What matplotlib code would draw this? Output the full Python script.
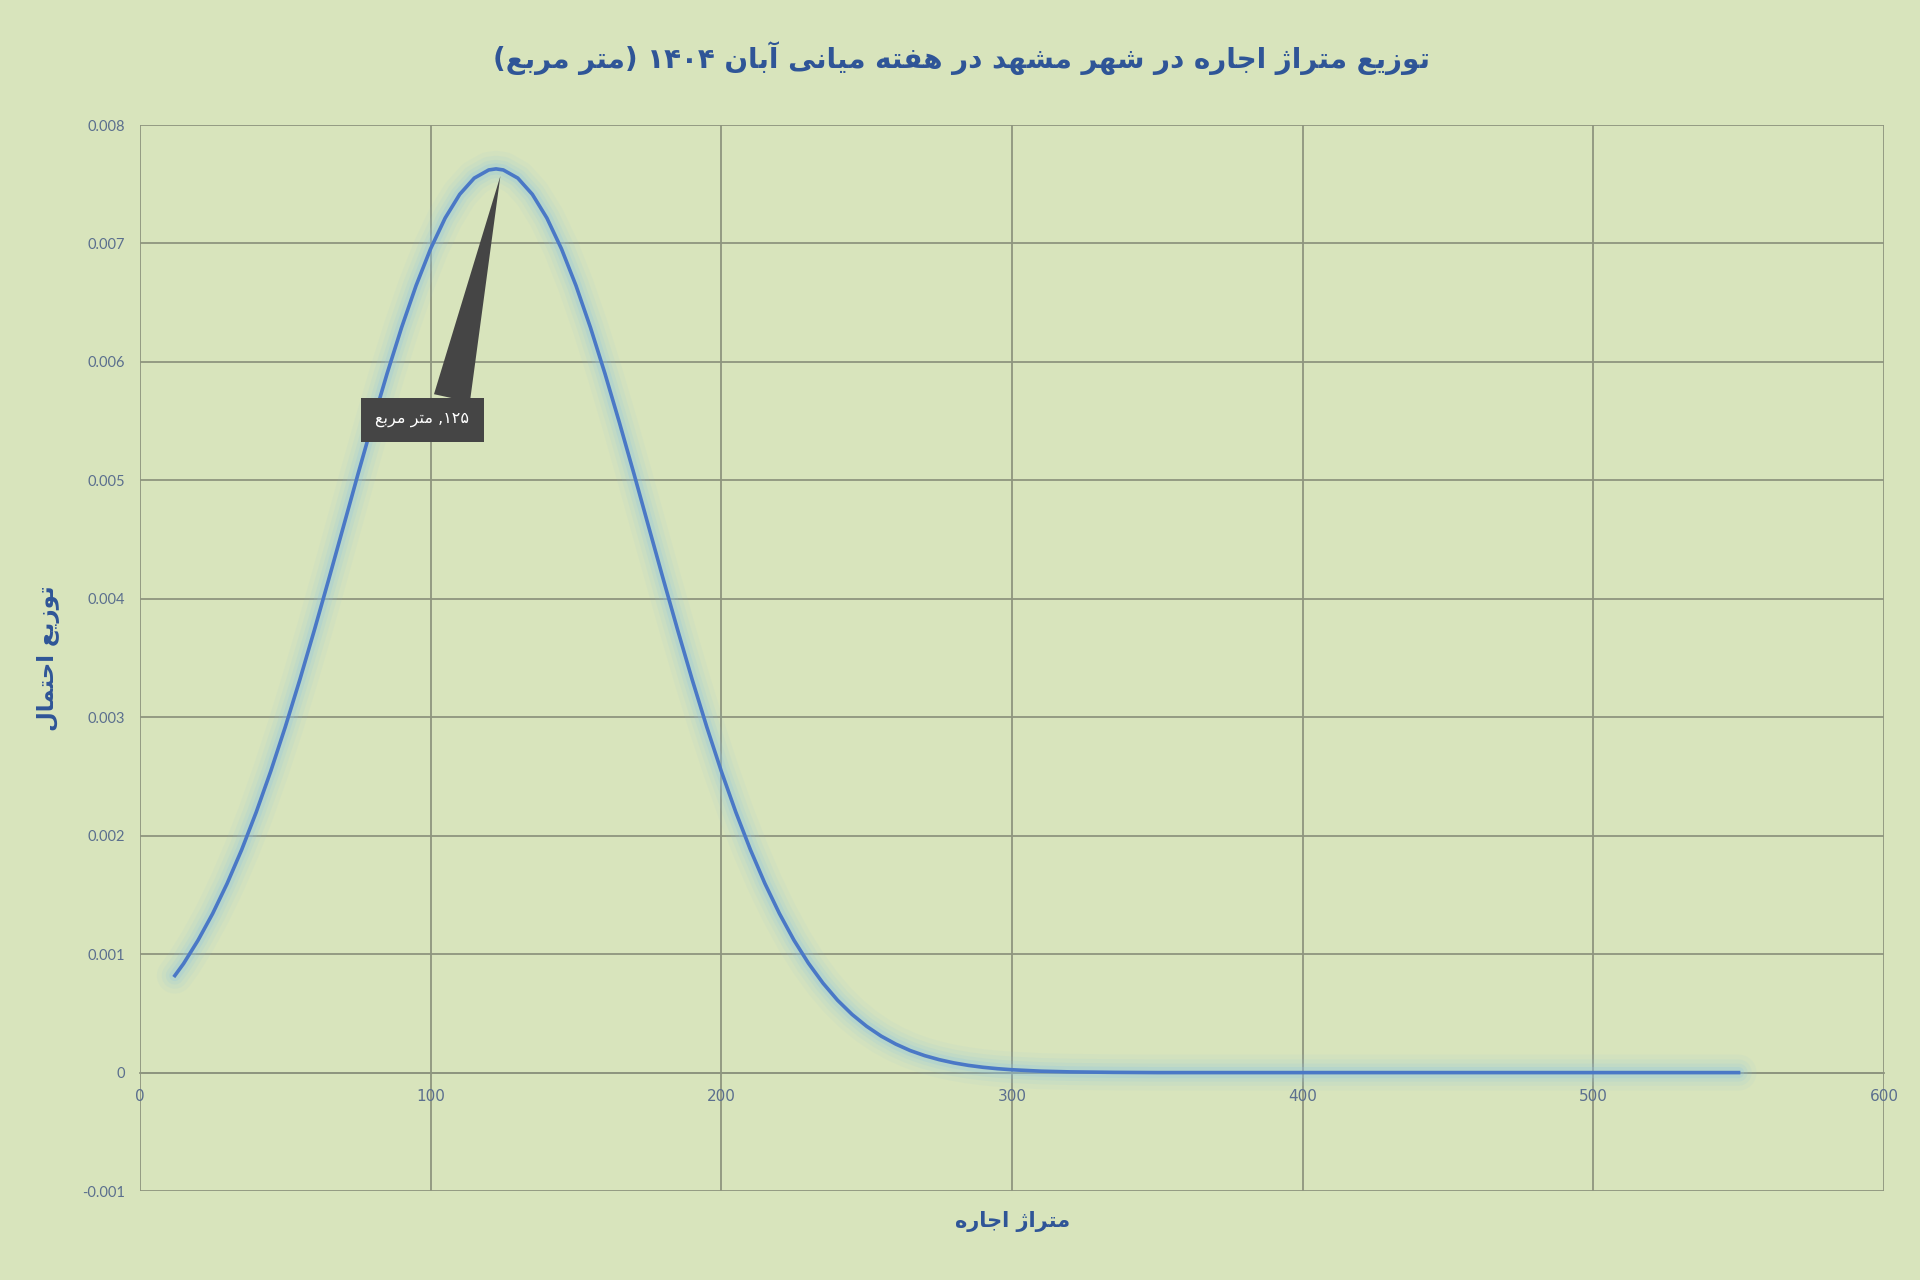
import re
import matplotlib
matplotlib.use("Agg")
import matplotlib.pyplot as plt

# data
area = [12, 15, 20, 25, 30, 35, 40, 45, 50, 55, 60, 65, 70, 75, 80, 85, 90, 95,
        100, 105, 110, 115, 120, 122.5, 125, 130, 135, 140, 145, 150, 155, 160,
        165, 170, 175, 180, 185, 190, 195, 200, 205, 210, 215, 220, 225, 230,
        235, 240, 245, 250, 255, 260, 265, 270, 275, 280, 285, 290, 295, 300,
        310, 320, 335, 350, 400, 450, 500, 550]
density = [0.000819, 0.000920, 0.001118, 0.001342, 0.001597, 0.001882, 0.002199,
           0.002545, 0.002919, 0.003317, 0.003736, 0.004169, 0.004610, 0.005052,
           0.005484, 0.005900, 0.006290, 0.006645, 0.006956, 0.007215, 0.007415,
           0.007552, 0.007621, 0.007630, 0.007621, 0.007552, 0.007415, 0.007215,
           0.006956, 0.006645, 0.006290, 0.005900, 0.005484, 0.005052, 0.004610,
           0.004169, 0.003736, 0.003317, 0.002919, 0.002545, 0.002199, 0.001883,
           0.001597, 0.001343, 0.001118, 0.000923, 0.000755, 0.000611, 0.000491,
           0.000391, 0.000308, 0.000241, 0.000186, 0.000143, 0.000109, 0.000082,
           0.000061, 0.000045, 0.000033, 0.000024, 0.000012, 0.000006, 0.000002,
           0.0, 0.0, 0.0, 0.0, 0.0]

x_ticks = [0, 100, 200, 300, 400, 500, 600]
y_ticks = [-0.001, 0, 0.001, 0.002, 0.003, 0.004, 0.005, 0.006, 0.007, 0.008]
y_labels = ['-0.001', '0', '0.001', '0.002', '0.003', '0.004', '0.005',
            '0.006', '0.007', '0.008']

title = 'توزیع متراژ اجاره در شهر مشهد در هفته میانی آبان ۱۴۰۴ (متر مربع)'
x_title = 'متراژ اجاره'
y_title = 'توزیع احتمال'
peak_label = '۱۲۵, متر مربع'

# matplotlib does no arabic shaping, so pick presentation forms by hand
FORMS = {
    'ا': '\uFE8D\uFE8E', 'آ': '\uFE81\uFE82', 'د': '\uFEA9\uFEAA',
    'ر': '\uFEAD\uFEAE', 'ز': '\uFEAF\uFEB0', 'ژ': '\uFB8A\uFB8B',
    'و': '\uFEED\uFEEE',
    'ب': '\uFE8F\uFE90\uFE91\uFE92', 'ت': '\uFE95\uFE96\uFE97\uFE98',
    'ج': '\uFE9D\uFE9E\uFE9F\uFEA0', 'ح': '\uFEA1\uFEA2\uFEA3\uFEA4',
    'ش': '\uFEB5\uFEB6\uFEB7\uFEB8', 'ع': '\uFEC9\uFECA\uFECB\uFECC',
    'ف': '\uFED1\uFED2\uFED3\uFED4', 'ل': '\uFEDD\uFEDE\uFEDF\uFEE0',
    'م': '\uFEE1\uFEE2\uFEE3\uFEE4', 'ن': '\uFEE5\uFEE6\uFEE7\uFEE8',
    'ه': '\uFEE9\uFEEA\uFEEB\uFEEC', 'ی': '\uFBFC\uFBFD\uFBFE\uFBFF',
}


def rtl(text):
    out = []
    for i, ch in enumerate(text):
        f = FORMS.get(ch)
        if f is None:
            out.append(ch)
            continue
        prev = text[i - 1] if i > 0 else ''
        nxt = text[i + 1] if i + 1 < len(text) else ''
        jp = len(FORMS.get(prev, '')) == 4
        jn = len(f) == 4 and nxt in FORMS
        if jp and jn:
            out.append(f[3])
        elif jp:
            out.append(f[1])
        elif jn:
            out.append(f[2])
        else:
            out.append(f[0])
    s = ''.join(out)[::-1]
    s = re.sub(r'[0-9\u06F0-\u06F9]+', lambda m: m.group(0)[::-1], s)
    return s.translate(str.maketrans('()', ')('))


bg = '#D8E4BC'
grid_c = '#8E957F'
title_c = '#2F5597'
tick_c = '#5B6F8E'
line_c = '#4A78C6'

fig = plt.figure(figsize=(19.2, 12.8), dpi=100, facecolor=bg)
ax = fig.add_axes([0.0729, 0.0695, 0.9083, 0.8328], facecolor=bg)

# soft glow under the line
for w, a in [(26, 0.07), (19, 0.10), (13, 0.14), (8, 0.22)]:
    ax.plot(area, density, color='#8CC4E4', lw=w, alpha=a,
            solid_capstyle='round', solid_joinstyle='round', zorder=3)
ax.plot(area, density, color=line_c, lw=2.6, solid_joinstyle='round', zorder=4)

ax.set_xlim(0, 600)
ax.set_ylim(-0.001, 0.008)
ax.set_xticks(x_ticks)
ax.set_yticks(y_ticks)
ax.set_yticklabels(y_labels)
ax.grid(True, color=grid_c, lw=1.3)
ax.set_axisbelow(True)
for s in ax.spines.values():
    s.set_visible(False)
ax.spines['bottom'].set_visible(True)
ax.spines['bottom'].set_position(('data', 0))
ax.spines['bottom'].set_color(grid_c)
ax.spines['bottom'].set_linewidth(1.3)

ax.tick_params(axis='y', length=0, pad=11, labelsize=10.5, labelcolor=tick_c)
ax.tick_params(axis='x', length=0, pad=12, labelsize=11, labelcolor=tick_c)
for t in ax.get_yticklabels():
    t.set_family(['Lato', 'DejaVu Sans'])
for t in ax.get_xticklabels():
    t.set_family(['Liberation Sans Narrow', 'DejaVu Sans'])

fig.text(0.5005, 0.955, rtl(title), ha='center', va='center', fontsize=20,
         fontweight='bold', color=title_c, family='DejaVu Sans')
fig.text(0.5275, 0.0455, rtl(x_title), ha='center', va='center', fontsize=15,
         fontweight='bold', color=title_c, family='DejaVu Sans')
fig.text(0.0255, 0.486, rtl(y_title), ha='center', va='center', fontsize=16.5,
         fontweight='bold', color=title_c, family='DejaVu Sans', rotation=90)

# callout on the peak
k = density.index(max(density))
ax.annotate(rtl(peak_label), xy=(area[k] + 1.5, density[k] - 0.00006),
            xytext=(97.2, 0.00551), textcoords='data',
            ha='center', va='center', fontsize=11.5, color='white',
            family='DejaVu Sans',
            bbox=dict(boxstyle='square,pad=0.9', fc='#454545', ec='none'),
            arrowprops=dict(arrowstyle='wedge,tail_width=2.3', fc='#454545',
                            ec='none', relpos=(0.78, 1.0), shrinkA=0,
                            shrinkB=0),
            zorder=6)

fig.savefig('out.png', dpi=100, facecolor=bg)
